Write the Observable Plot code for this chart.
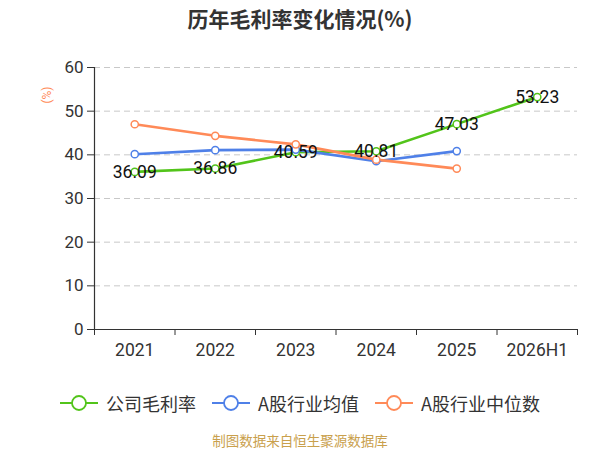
<!DOCTYPE html>
<html>
<head>
<meta charset="utf-8">
<script src="https://cdn.jsdelivr.net/npm/d3@7"></script>
<script src="https://cdn.jsdelivr.net/npm/@observablehq/plot@0.6"></script>
<style>
  body { margin: 0; background: #fff; }
  #wrap { position: relative; width: 600px; height: 450px; overflow: hidden; font-family: Roboto, "Noto Sans CJK SC", sans-serif; }
  #title { position: absolute; left: 0; top: 0; width: 600px; height: 36px; line-height: 36px; text-align: center; font-size: 21px; font-weight: bold; color: #333; font-family: "Noto Sans CJK SC", sans-serif; }
  #ylab { position: absolute; left: 47px; top: 95px; transform: translate(-50%, -50%) rotate(-90deg); font-size: 12px; color: #ff8a58; white-space: nowrap; }
  #chart { position: absolute; left: 0; top: 40px; }
  #legend { position: absolute; left: 0; top: 390px; width: 600px; height: 26px; display: flex; justify-content: center; align-items: center; gap: 16px; }
  .item { display: flex; align-items: center; font-size: 18px; color: #333; font-family: "Noto Sans CJK SC", sans-serif; }
  .item svg { margin-right: 8px; }
  #footer { position: absolute; left: 0; top: 430px; width: 600px; height: 20px; line-height: 20px; text-align: center; font-size: 13.5px; color: #c9a04c; font-family: "Noto Sans CJK SC", sans-serif; }
</style>
</head>
<body>
<div id="wrap">
  <div id="title"></div>
  <div id="ylab"></div>
  <div id="chart"></div>
  <div id="legend"></div>
  <div id="footer"></div>
</div>
<script>
const titleText = "历年毛利率变化情况(%)";
const yUnit = "(%)";
const footerText = "制图数据来自恒生聚源数据库";
const categories = ["2021", "2022", "2023", "2024", "2025", "2026H1"];
const company = [36.09, 36.86, 40.59, 40.81, 47.03, 53.23];
const industryAvg = [40.15, 41.07, 41.2, 38.54, 40.85];
const industryMedian = [47.0, 44.35, 42.4, 38.9, 36.85];
const yTicks = [0, 10, 20, 30, 40, 50, 60];
const seriesNames = ["公司毛利率", "A股行业均值", "A股行业中位数"];
const colors = ["#52c41a", "#4f80e8", "#ff8a58"];

document.getElementById("title").textContent = titleText;
document.getElementById("ylab").textContent = yUnit;
document.getElementById("footer").textContent = footerText;

const toRows = (vals, s) => vals.map((v, i) => ({i: i + 0.5, v, s}));
const rows = [
  ...toRows(company, seriesNames[0]),
  ...toRows(industryAvg, seriesNames[1]),
  ...toRows(industryMedian, seriesNames[2])
];
const bounds = d3.range(categories.length + 1);
const centers = categories.map((c, i) => i + 0.5);

const chart = Plot.plot({
  width: 600,
  height: 330,
  marginLeft: 94,
  marginRight: 23,
  marginTop: 27,
  marginBottom: 41,
  style: {fontFamily: "Roboto, sans-serif", color: "#333", background: "transparent"},
  x: {domain: [0, categories.length], axis: null},
  y: {domain: [0, 60], axis: null},
  color: {domain: seriesNames, range: colors},
  marks: [
    Plot.gridY(yTicks.filter(d => d > 0), {stroke: "#c8c8c8", strokeOpacity: 1, strokeDasharray: "6,4", strokeWidth: 1}),
    Plot.axisY(yTicks, {tickSize: 7, tickPadding: 4, fontSize: 17, stroke: "#333", fill: "#333", label: null}),
    Plot.axisX(bounds, {tickSize: 6, tickFormat: () => "", stroke: "#333", label: null}),
    Plot.axisX(centers, {tickSize: 0, tickPadding: 14, fontSize: 17.5, fill: "#333", tickFormat: d => categories[Math.round(d - 0.5)], label: null}),
    Plot.ruleX([0], {stroke: "#333", strokeWidth: 1.2}),
    Plot.ruleY([0], {stroke: "#333", strokeWidth: 1.2}),
    Plot.line(rows, {x: "i", y: "v", z: "s", stroke: "s", strokeWidth: 2.6, curve: "linear"}),
    Plot.dot(rows, {x: "i", y: "v", stroke: "s", fill: "white", r: 3.6, strokeWidth: 1.5}),
    Plot.text(company, {x: (d, i) => i + 0.5, y: d => d, text: d => d.toFixed(2), fontSize: 17.5, fill: "#111", textAnchor: "middle", lineAnchor: "middle"})
  ]
});
document.getElementById("chart").appendChild(chart);

const legend = document.getElementById("legend");
seriesNames.forEach((name, k) => {
  const item = document.createElement("div");
  item.className = "item";
  item.innerHTML = `<svg width="38" height="18"><line x1="0" x2="38" y1="9" y2="9" stroke="${colors[k]}" stroke-width="1.8"/><circle cx="19" cy="9" r="7" fill="white" stroke="${colors[k]}" stroke-width="1.8"/></svg><span></span>`;
  item.querySelector("span").textContent = name;
  legend.appendChild(item);
});
</script>
</body>
</html>
